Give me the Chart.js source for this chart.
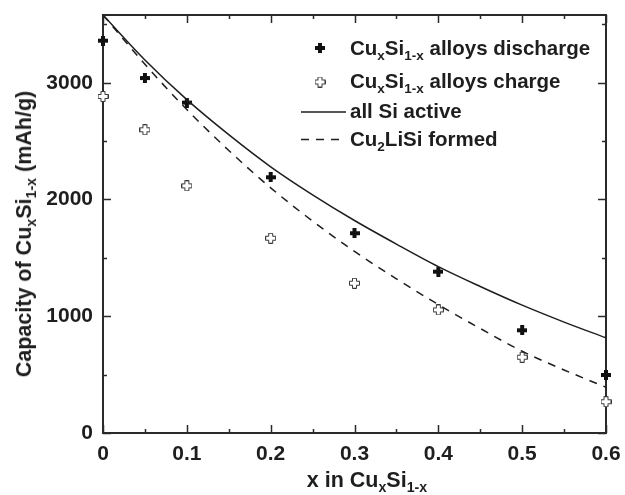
<!DOCTYPE html>
<html>
<head>
<meta charset="utf-8">
<script src="https://cdn.jsdelivr.net/npm/chart.js@4.4.1/dist/chart.umd.min.js"></script>
<style>
  html, body { margin: 0; padding: 0; background: #fff; }
  #wrap { position: relative; width: 625px; height: 495px; font-family: "Liberation Sans", Arial, sans-serif; color: #1e1e1e; }
  canvas { position: absolute; left: 0; top: 0; }
  .t { position: absolute; white-space: nowrap; font-weight: bold; font-size: 20.5px; line-height: 20px; }
  .t sub { font-size: 0.66em; vertical-align: -0.38em; line-height: 0; }
  #ytitle { left: 24px; top: 234px; transform: translate(-50%, -50%) rotate(-90deg); font-size: 21.5px; }
  #xtitle { left: 367px; top: 480px; transform: translate(-50%, -50%); font-size: 21.5px; }
</style>
</head>
<body>
<div id="wrap">
  <canvas id="c" width="625" height="495"></canvas>
  <div class="t" id="ytitle">Capacity of Cu<sub>x</sub>Si<sub>1-x</sub> (mAh/g)</div>
  <div class="t" id="xtitle">x in Cu<sub>x</sub>Si<sub>1-x</sub></div>
  <div class="t" style="left:350px; top:38px;">Cu<sub>x</sub>Si<sub>1-x</sub> alloys discharge</div>
  <div class="t" style="left:350px; top:71px;">Cu<sub>x</sub>Si<sub>1-x</sub> alloys charge</div>
  <div class="t" style="left:350px; top:101px;">all Si active</div>
  <div class="t" style="left:350px; top:129px;">Cu<sub>2</sub>LiSi formed</div>
</div>
<script>
// ---- data ----
const xMeasured = [0, 0.05, 0.1, 0.2, 0.3, 0.4, 0.5, 0.6];
const dischargeCap = [3360, 3040, 2830, 2190, 1711, 1382, 880, 497];
const chargeCap = [2882, 2597, 2117, 1668, 1283, 1054, 649, 268];

const xCurve = [0, 0.05, 0.1, 0.15, 0.2, 0.25, 0.3, 0.35, 0.4, 0.45, 0.5, 0.55, 0.6];
const allSiActive = [3580, 3195, 2855, 2555, 2280, 2040, 1820, 1618, 1425, 1255, 1095, 950, 815];
const cu2LiSiFormed = [3580, 3158, 2770, 2420, 2100, 1815, 1555, 1320, 1100, 895, 700, 540, 392];

const xTicks = [0, 0.1, 0.2, 0.3, 0.4, 0.5, 0.6];
const xMinorTicks = [0.05, 0.15, 0.25, 0.35, 0.45, 0.55];
const yTicks = [0, 1000, 2000, 3000];
const yMinorTicks = [500, 1500, 2500, 3500];

const INK = '#1e1e1e';

// ---- marker images ----
function filledPlus() {
  const c = document.createElement('canvas'); c.width = 10; c.height = 10;
  const g = c.getContext('2d'); g.fillStyle = '#111';
  g.fillRect(3, 0, 4, 10); g.fillRect(0, 3, 10, 4);
  return c;
}
function openPlus() {
  const c = document.createElement('canvas'); c.width = 11; c.height = 11;
  const g = c.getContext('2d');
  const m = 5.5, a = 2, b = 5;
  g.beginPath();
  g.moveTo(m - a, m - b); g.lineTo(m + a, m - b); g.lineTo(m + a, m - a); g.lineTo(m + b, m - a);
  g.lineTo(m + b, m + a); g.lineTo(m + a, m + a); g.lineTo(m + a, m + b); g.lineTo(m - a, m + b);
  g.lineTo(m - a, m + a); g.lineTo(m - b, m + a); g.lineTo(m - b, m - a); g.lineTo(m - a, m - a);
  g.closePath();
  g.fillStyle = '#fff'; g.fill();
  g.strokeStyle = '#333'; g.lineWidth = 1; g.stroke();
  return c;
}
const fp = filledPlus(), op = openPlus();

const toXY = (xs, ys) => xs.map((x, i) => ({ x: x, y: ys[i] }));

const framePlugin = {
  id: 'frame',
  beforeDatasetsDraw(chart) {
    const { ctx, chartArea: a, scales } = chart;
    ctx.save();
    ctx.strokeStyle = '#2a2a2a';
    ctx.lineWidth = 2;
    ctx.strokeRect(a.left, a.top, a.right - a.left, a.bottom - a.top);
    ctx.lineWidth = 1.5;
    ctx.beginPath();
    const tick = (vals, len, isX) => vals.forEach(v => {
      if (isX) {
        const p = Math.round(scales.x.getPixelForValue(v)) + 0.5;
        ctx.moveTo(p, a.bottom); ctx.lineTo(p, a.bottom - len);
        ctx.moveTo(p, a.top); ctx.lineTo(p, a.top + len);
      } else {
        const p = Math.round(scales.y.getPixelForValue(v)) + 0.5;
        ctx.moveTo(a.left, p); ctx.lineTo(a.left + len, p);
        ctx.moveTo(a.right, p); ctx.lineTo(a.right - len, p);
      }
    });
    tick(xTicks, 8, true); tick(xMinorTicks, 4, true);
    tick(yTicks, 8, false); tick(yMinorTicks, 4, false);
    ctx.stroke();
    ctx.restore();
  },
  afterDraw(chart) {
    const ctx = chart.ctx;
    ctx.save();
    ctx.drawImage(fp, 320 - 5, 48 - 5);
    ctx.drawImage(op, 320 - 5.5, 82 - 5.5);
    ctx.strokeStyle = INK; ctx.lineWidth = 1.5;
    ctx.beginPath(); ctx.moveTo(301, 112); ctx.lineTo(346, 112); ctx.stroke();
    ctx.setLineDash([8, 7]);
    ctx.beginPath(); ctx.moveTo(301, 139.5); ctx.lineTo(346, 139.5); ctx.stroke();
    ctx.restore();
  }
};

new Chart(document.getElementById('c'), {
  type: 'scatter',
  data: {
    datasets: [
      { label: 'all Si active', data: toXY(xCurve, allSiActive), showLine: true, pointRadius: 0,
        borderColor: INK, borderWidth: 1.5, cubicInterpolationMode: 'monotone', fill: false },
      { label: 'Cu2LiSi formed', data: toXY(xCurve, cu2LiSiFormed), showLine: true, pointRadius: 0,
        borderColor: INK, borderWidth: 1.5, borderDash: [8, 7], cubicInterpolationMode: 'monotone', fill: false },
      { label: 'CuxSi1-x alloys charge', data: toXY(xMeasured, chargeCap), pointStyle: op, pointRadius: 5,
        showLine: false, clip: false },
      { label: 'CuxSi1-x alloys discharge', data: toXY(xMeasured, dischargeCap), pointStyle: fp, pointRadius: 5,
        showLine: false, clip: false }
    ]
  },
  options: {
    responsive: false,
    devicePixelRatio: 1,
    animation: false,
    layout: { padding: { left: 0, top: 15, right: 19, bottom: 0 } },
    plugins: { legend: { display: false }, tooltip: { enabled: false } },
    scales: {
      x: {
        type: 'linear', min: 0, max: 0.6,
        afterBuildTicks: s => { s.ticks = xTicks.map(v => ({ value: v })); },
        afterFit: s => { s.height = 62; s.paddingLeft = 0; s.paddingRight = 0; },
        grid: { display: false, drawTicks: false },
        border: { display: false },
        ticks: { padding: 9, color: INK, font: { family: 'Liberation Sans', size: 21, weight: 'bold' },
          callback: v => (v === 0 ? '0' : v.toFixed(1)) }
      },
      y: {
        type: 'linear', min: 0, max: 3580,
        afterBuildTicks: s => { s.ticks = yTicks.map(v => ({ value: v })); },
        afterFit: s => { s.width = 103; s.paddingTop = 0; s.paddingBottom = 0; },
        grid: { display: false, drawTicks: false },
        border: { display: false },
        ticks: { padding: 10, color: INK, font: { family: 'Liberation Sans', size: 21, weight: 'bold' },
          callback: v => String(v) }
      }
    }
  },
  plugins: [framePlugin]
});
</script>
</body>
</html>
